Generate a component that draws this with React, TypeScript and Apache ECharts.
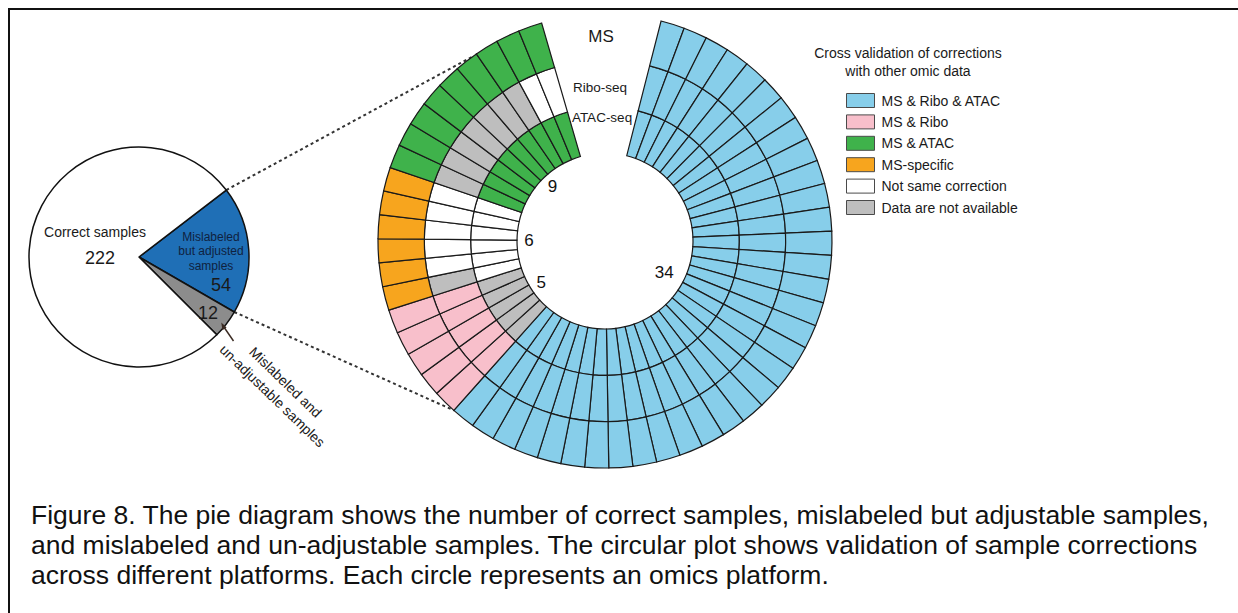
import React, { useEffect, useRef } from "react";
import * as echarts from "echarts";

// Pie: sample outcome counts
const pieNames = ["Mislabeled but adjusted samples", "Mislabeled and un-adjustable samples", "Correct samples"];
const pieValues = [54, 12, 222];
const pieColors = ["#1f6fb6", "#8c8c8c", "#ffffff"];

// Circular plot: validation category of each corrected sample
const categoryNames = [
  "MS & Ribo & ATAC",
  "MS & Ribo",
  "MS & ATAC",
  "MS-specific",
  "Not same correction",
  "Data are not available",
];
const categoryColors = ["#87ceea", "#f8bfcb", "#3fb24b", "#f7a51e", "#ffffff", "#bebebe"];

// Tracks from inner to outer
const platforms = ["ATAC-seq", "Ribo-seq", "MS"];

// Run-length encoded status per sample, clockwise: [category index, number of samples]
const atacRuns: [number, number][] = [[0, 34], [5, 5], [4, 6], [2, 9]];
const riboRuns: [number, number][] = [[0, 34], [1, 5], [5, 1], [4, 5], [5, 7], [4, 2]];
const msRuns: [number, number][] = [[0, 34], [1, 5], [3, 6], [2, 9]];

const caption =
  "Figure 8. The pie diagram shows the number of correct samples, mislabeled but adjustable samples,\n" +
  "and mislabeled and un-adjustable samples. The circular plot shows validation of sample corrections\n" +
  "across different platforms. Each circle represents an omics platform.";

// Layout
const PIE_C = [139, 257];
const PIE_R = 110;
const PIE_START = 37.5;
const RING_C = [605, 241];
const RING_R = [88, 227];
const RING_START = 14.3; // degrees clockwise from 12 o'clock
const GAP_SLOTS = 5;

const expand = (runs: [number, number][]) => runs.flatMap(([c, n]) => Array(n).fill(c));

export default function App() {
  const ref = useRef<HTMLDivElement>(null);

  useEffect(() => {
    if (!ref.current) return;
    const chart = echarts.init(ref.current, undefined, { renderer: "svg" });

    const tracks = [expand(atacRuns), expand(riboRuns), expand(msRuns)];
    const nSamples = tracks[2].length;
    const nSlots = nSamples + GAP_SLOTS;
    const slotDeg = 360 / nSlots;
    const slots = Array.from({ length: nSlots }, (_, i) => String(i));

    const toXY = (deg: number, r: number, c = RING_C) => {
      const a = (deg * Math.PI) / 180;
      return [c[0] + r * Math.sin(a), c[1] - r * Math.cos(a)];
    };
    const pieXY = (deg: number, r: number) => {
      const a = (deg * Math.PI) / 180;
      return [PIE_C[0] + r * Math.cos(a), PIE_C[1] - r * Math.sin(a)];
    };

    const ff = "'Liberation Sans', Arial, sans-serif";
    const txt = (x: number, y: number, text: string, size: number, extra: any = {}) => ({
      type: "text",
      x,
      y,
      z: 100,
      ...extra,
      style: {
        text,
        align: "center",
        verticalAlign: "middle",
        fill: "#1a1a1a",
        font: `${size}px ${ff}`,
        ...(extra.style || {}),
      },
    });

    // group count labels inside the hole
    const groupLabels: any[] = [];
    let cum = 0;
    msRuns.forEach(([, n]) => {
      const mid = RING_START + (cum + n / 2) * slotDeg;
      const label = String(n);
      const [x, y] = toXY(mid, 76 - (label.length - 1) * 9);
      groupLabels.push(txt(x, y, label, 17, { style: { fill: "#111" } }));
      cum += n;
    });

    // connectors from the adjusted slice to the circular plot
    const blueSpan = (pieValues[0] / pieValues.reduce((a, b) => a + b, 0)) * 360;
    const p1 = pieXY(PIE_START, PIE_R);
    const p2 = pieXY(PIE_START - blueSpan, PIE_R);
    const q1 = toXY(324.5, RING_R[1]);
    const q2 = toXY(RING_START + msRuns[0][1] * slotDeg, RING_R[1]);

    const option: any = {
      animation: false,
      backgroundColor: "#ffffff",
      textStyle: { fontFamily: ff },
      polar: { center: RING_C, radius: RING_R },
      angleAxis: {
        type: "category",
        data: slots,
        startAngle: 90 - RING_START,
        clockwise: true,
        boundaryGap: true,
        axisLine: { show: false },
        axisTick: { show: false },
        axisLabel: { show: false },
        splitLine: { show: false },
      },
      radiusAxis: {
        type: "value",
        min: 0,
        max: platforms.length,
        axisLine: { show: false },
        axisTick: { show: false },
        axisLabel: { show: false },
        splitLine: { show: false },
      },
      legend: {
        data: categoryNames,
        orient: "vertical",
        left: 846,
        top: 93,
        padding: 0,
        icon: "rect",
        itemWidth: 28,
        itemHeight: 14,
        itemGap: 6.4,
        selectedMode: false,
        itemStyle: { borderColor: "#4a4a4a", borderWidth: 1 },
        textStyle: { fontSize: 14, color: "#1a1a1a", fontFamily: ff, lineHeight: 14, padding: [0, 0, 0, 2] },
      },
      series: [
        ...platforms.map((p, t) => ({
          type: "bar",
          name: p,
          coordinateSystem: "polar",
          stack: "tracks",
          barCategoryGap: "0%",
          silent: true,
          itemStyle: { borderColor: "#1a1a1a", borderWidth: 1.2 },
          data: slots.map((_, i) =>
            i < nSamples ? { value: 1, itemStyle: { color: categoryColors[tracks[t][i]] } } : "-"
          ),
        })),
        ...categoryNames.map((n, i) => ({
          type: "line",
          name: n,
          coordinateSystem: "polar",
          data: [],
          itemStyle: { color: categoryColors[i] },
        })),
        {
          type: "pie",
          name: "samples",
          center: PIE_C,
          radius: PIE_R,
          startAngle: PIE_START,
          clockwise: true,
          silent: true,
          label: { show: false },
          labelLine: { show: false },
          itemStyle: { borderColor: "#111", borderWidth: 1.5 },
          data: pieNames.map((n, i) => ({ name: n, value: pieValues[i], itemStyle: { color: pieColors[i] } })),
        },
      ],
      graphic: [
        // frame
        {
          type: "rect",
          shape: { x: 9, y: 9, width: 1300, height: 700 },
          style: { fill: "none", stroke: "#111", lineWidth: 2 },
          silent: true,
        },
        // dotted connectors
        {
          type: "line",
          shape: { x1: p1[0], y1: p1[1], x2: q1[0], y2: q1[1] },
          style: { stroke: "#333", lineWidth: 2, lineDash: [3, 3] },
        },
        {
          type: "line",
          shape: { x1: p2[0], y1: p2[1], x2: q2[0], y2: q2[1] },
          style: { stroke: "#333", lineWidth: 2, lineDash: [3, 3] },
        },
        // pie labels
        txt(95, 232, pieNames[2], 14),
        txt(100, 258, String(pieValues[2]), 18),
        txt(211, 251, "Mislabeled\nbut adjusted\nsamples", 12, { style: { fill: "#0f2240", lineHeight: 14.5 } }),
        txt(221, 285, String(pieValues[0]), 18),
        txt(208, 313, String(pieValues[1]), 18),
        txt(279, 389, "Mislabeled and\nun-adjustable samples", 14, {
          rotation: (-44 * Math.PI) / 180,
          style: { lineHeight: 19 },
        }),
        // pointer to the un-adjustable slice
        {
          type: "line",
          z: 100,
          shape: { x1: 233.5, y1: 341, x2: 222.5, y2: 325 },
          style: { stroke: "#3a2a22", lineWidth: 1.5 },
        },
        {
          type: "polygon",
          z: 100,
          shape: { points: [[221.3, 322.5], [226.6, 327.6], [222.4, 330.3]] },
          style: { fill: "#3a2a22" },
        },
        // track names
        txt(601, 36, platforms[2], 17),
        txt(600, 87, platforms[1], 13.5),
        txt(602, 117, platforms[0], 13.5),
        ...groupLabels,
        // legend title
        txt(908, 62, "Cross validation of corrections\nwith other omic data", 14, { style: { lineHeight: 18 } }),
        // caption
        {
          type: "text",
          x: 31,
          y: 500,
          z: 100,
          style: {
            text: caption,
            align: "left",
            verticalAlign: "top",
            fill: "#111",
            font: `26.5px ${ff}`,
            lineHeight: 30,
          },
        },
      ],
    };

    chart.setOption(option);
    return () => chart.dispose();
  }, []);

  return (
    <div
      ref={ref}
      style={{ position: "fixed", left: 0, top: 0, width: 1238, height: 613, background: "#fff" }}
    />
  );
}
